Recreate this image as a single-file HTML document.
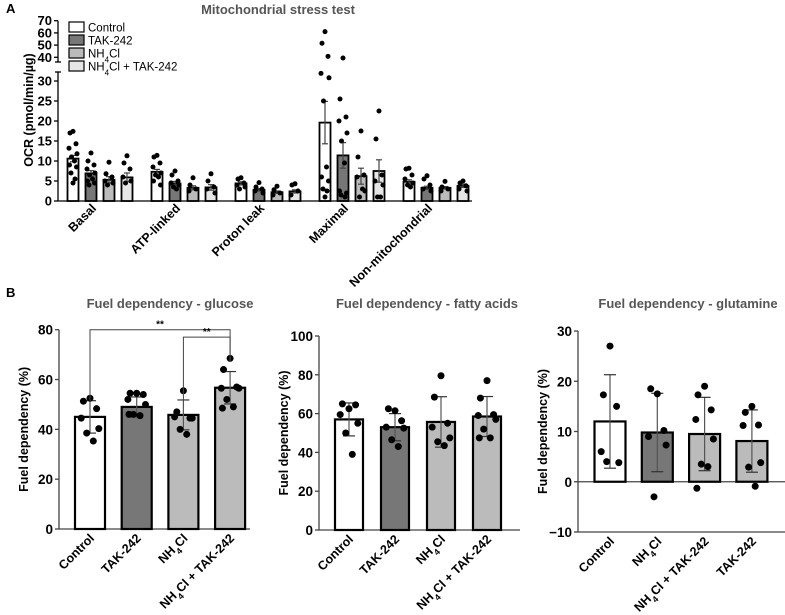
<!DOCTYPE html>
<html><head><meta charset="utf-8"><style>
html,body{margin:0;padding:0;background:#fff}
svg{display:block;font-family:"Liberation Sans",Arial,sans-serif}
</style></head><body>
<svg id="fig" width="785" height="615" viewBox="0 0 785 615"></svg>
<script>
// ---------- Panel A data ----------
const aCategories = ["Basal","ATP-linked","Proton leak","Maximal","Non-mitochondrial"];
const aGroups = ["Control","TAK-242","NH4Cl","NH4Cl + TAK-242"];
const aMeans = [[10.6,6.9,5.3,5.9],[7.3,4.4,3.3,3.4],[4.4,2.8,2.2,2.4],[19.6,11.4,6.2,7.5],[4.8,3.3,3.3,3.8]];
const aSem = [[0.8,0.7,0.8,1.1],[0.6,0.5,0.5,0.7],[0.4,0.3,0.3,0.4],[5.3,3.2,2.0,2.8],[0.5,0.4,0.3,0.4]];
const aDots = [
 [[17.4,17,14.3,13.2,11.8,11,10,9,8.5,7,5.5,4.5],[12,10,9,8,7,6.5,5.5,5,4.5,4],[9.7,6.8,6,5,4.5,4],[11.3,9.5,8,6,5,4.5]],
 [[11.4,11,9.5,8.5,7,6.5,6,5,4],[7.5,6.5,5,4.5,4,3.5,3],[5.8,4,3,2.5],[6.8,5,3.5,3,2]],
 [[5.8,5.5,4.5,4,3.5,3],[4.6,3.5,3,2.5,2],[3.7,2.8,2,1.5],[4.3,4,2.5,1.5]],
 [[61,51.5,40.8,31.9,30.8,25,8.5,6,5,3,2.5,1],[39.4,25.5,21,20,17,15,9.5,2.5,2,1.5,1],[17.5,11,6.5,6,2.5,1,3],[22.5,15.5,6.5,5,4,1,1]],
 [[8.2,8,6.5,5.5,4.5,4,3.5],[6.3,5.5,4,3,2.5],[4.9,3.5,3,2.5],[5,4.5,3.8,3,2.5]]
];
const aTicksLow = [0,5,10,15,20,25,30];
const aTicksHigh = [40,50,60,70];
// ---------- Panel B data ----------
const b1Cats = ["Control","TAK-242","NH4Cl","NH4Cl + TAK-242"];
const b1Means = [45,49,45.8,56.7];
const b1Sd = [6.5,4,6,6.5];
const b1Dots = [[52.5,51.3,48.3,44.5,40.3,38.5,35.3],[54.5,54.5,54,52,50,46,45.5,46],[55.5,47,44.5,45,44.5,40,38],[68.5,64,57,56.5,56.5,52,49,48.5]];
const b1Ticks = [0,20,40,60,80];
const b2Cats = ["Control","TAK-242","NH4Cl","NH4Cl + TAK-242"];
const b2Means = [57,53,55.7,58.5];
const b2Sd = [8.5,7,13,10.3];
const b2Dots = [[62.5,65,64.5,59.5,55,50,39],[61.5,62.5,56.3,53,52.5,46.5,43],[79.5,68.5,55,53,47.5,45.5,43.5],[77,68,59.5,59,57,52,47.5,47.5]];
const b2Ticks = [0,20,40,60,80,100];
const b3Cats = ["Control","NH4Cl","NH4Cl + TAK-242","TAK-242"];
const b3Means = [12,9.8,9.5,8.1];
const b3Sd = [9.3,7.8,7.3,6.2];
const b3Dots = [[27,17.3,15,6,3.8,4],[17.5,18.5,10.2,9,7.3,-3],[19,17.3,14.3,12.4,8.5,3.5,3,-1.3],[15,13.8,11.3,11.2,3.8,2.9,-0.9]];
const b3Ticks = [-10,0,10,20,30];

const NS="http://www.w3.org/2000/svg";
const svg=document.getElementById('fig');
function mk(tag,attrs,parent){const e=document.createElementNS(NS,tag);for(const k in attrs)e.setAttribute(k,attrs[k]);(parent||svg).appendChild(e);return e;}
function label(el,txt){
  const parts=txt.split("NH4Cl");
  parts.forEach((p,i)=>{
    if(i>0){const t1=mk('tspan',{},el);t1.textContent="NH";const t2=mk('tspan',{'baseline-shift':'sub','font-size':'0.7em'},el);t2.textContent="4";const t3=mk('tspan',{},el);t3.textContent="Cl";}
    if(p){const t=mk('tspan',{},el);t.textContent=p;}
  });
}
function jit(i){return [0,-3,3,-4,4,-1.5,1.5,-3.5,3.5,-2,2,0][i%12];}

// ---------- Panel A ----------
const A={x0:58,x1:472,y0:201,pxL:4.0,yHi40:57.3,pxH:1.22};
function ay(v){return v<=33?A.y0-v*A.pxL:A.yHi40-(v-40)*A.pxH;}
const fills=["#ffffff","#777777","#bbbbbb","#e6e6e6"];
const gA=mk('g',{});


let t=mk('text',{x:6,y:13,'font-size':13,'font-weight':'bold'},gA);t.textContent="A";

t=mk('text',{x:278,y:14,'font-size':13,'font-weight':'bold',fill:'#555','text-anchor':'middle'},gA);t.textContent="Mitochondrial stress test";

mk('line',{x1:A.x0,y1:A.y0,x2:A.x0,y2:72,stroke:'#000','stroke-width':1.3},gA);
mk('line',{x1:A.x0,y1:62,x2:A.x0,y2:20.7,stroke:'#000','stroke-width':1.3},gA);
mk('line',{x1:55,y1:72,x2:61,y2:72,stroke:'#000','stroke-width':1.3},gA);
mk('line',{x1:55,y1:62,x2:61,y2:62,stroke:'#000','stroke-width':1.3},gA);
mk('line',{x1:A.x0,y1:A.y0,x2:A.x1,y2:A.y0,stroke:'#000','stroke-width':1.3},gA);
[...aTicksLow,...aTicksHigh].forEach(v=>{const y=ay(v);mk('line',{x1:A.x0-4,y1:y,x2:A.x0,y2:y,stroke:'#000','stroke-width':1.3},gA);
  const tt=mk('text',{x:A.x0-6,y:y+4.5,'font-size':13,'font-weight':'bold','text-anchor':'end'},gA);tt.textContent=v;
  });
t=mk('text',{x:0,y:0,'font-size':12.5,'font-weight':'bold','text-anchor':'middle',transform:'translate(33,110) rotate(-90)'},gA);t.textContent="OCR (pmol/min/µg)";

aGroups.forEach((g,i)=>{const y=22+i*13;
  const r=mk('rect',{x:69,y:y,width:15,height:10,fill:fills[i],stroke:'#000','stroke-width':1.2},gA);
  
  const tx=mk('text',{x:88,y:y+9.5,'font-size':11.5},gA);label(tx,g);
  });
aCategories.forEach((c,ci)=>{
  const gc=73+84*ci;
  aGroups.forEach((g,gi)=>{
    const cx=gc+18*gi,m=aMeans[ci][gi],s=aSem[ci][gi];
    const r=mk('rect',{x:cx-5.5,y:ay(m),width:11,height:A.y0-ay(m),fill:fills[gi],stroke:'#000','stroke-width':1.8},gA);
    
    mk('line',{x1:cx,y1:ay(m-s),x2:cx,y2:ay(m+s),stroke:'#444','stroke-width':1.2},gA);
    mk('line',{x1:cx-3,y1:ay(m+s),x2:cx+3,y2:ay(m+s),stroke:'#444','stroke-width':1.2},gA);
    mk('line',{x1:cx-3,y1:ay(m-s),x2:cx+3,y2:ay(m-s),stroke:'#444','stroke-width':1.2},gA);
    aDots[ci][gi].forEach((v,di)=>{const d=mk('circle',{cx:cx+jit(di),cy:ay(v),r:2.5,fill:'#000'},gA);
      });
  });
  const lx=gc+24,ly=209;
  const tx=mk('text',{x:lx,y:ly,'font-size':12.5,'font-weight':'bold','text-anchor':'end',transform:`rotate(-45 ${lx} ${ly})`},gA);tx.textContent=c;
  
});

// ---------- Panel B ----------
t=mk('text',{x:6,y:297,'font-size':13,'font-weight':'bold'});t.textContent="B";

function panel(cfg){
  const g=mk('g',{});
  
  
  const y=v=>cfg.yTop+(cfg.vMax-v)*(cfg.yBot-cfg.yTop)/(cfg.vMax-cfg.vMin);
  let tt=mk('text',{x:cfg.titleX,y:308,'font-size':13,'font-weight':'bold',fill:'#555','text-anchor':'middle'},g);tt.textContent=cfg.title;
  
  mk('line',{x1:cfg.ax,y1:y(cfg.vMin),x2:cfg.ax,y2:y(cfg.vMax),stroke:'#444','stroke-width':1.3},g);
  mk('line',{x1:cfg.ax,y1:y(0),x2:cfg.axEnd,y2:y(0),stroke:'#444','stroke-width':1.3},g);
  if(cfg.vMin<0) mk('line',{x1:cfg.ax,y1:y(cfg.vMin),x2:cfg.axEnd,y2:y(cfg.vMin),stroke:'#444','stroke-width':1.3},g);
  cfg.ticks.forEach(v=>{mk('line',{x1:cfg.ax-4,y1:y(v),x2:cfg.ax,y2:y(v),stroke:'#444','stroke-width':1.3},g);
    const l=mk('text',{x:cfg.ax-6,y:y(v)+5,'font-size':13.5,'font-weight':'bold','text-anchor':'end'},g);l.textContent=(v<0?'−'+(-v):v);
    });
  tt=mk('text',{x:0,y:0,'font-size':12.5,'font-weight':'bold','text-anchor':'middle',transform:`translate(${cfg.ax-31},${(y(cfg.vMin)+y(cfg.vMax))/2}) rotate(-90)`},g);tt.textContent="Fuel dependency (%)";
  
  const base=y(cfg.vMin<0?cfg.vMin:0);
  cfg.cats.forEach((c,i)=>{
    const cx=cfg.c0+cfg.step*i,m=cfg.means[i],s=cfg.sd[i];
    const r=mk('rect',{x:cx-cfg.bw/2,y:y(m),width:cfg.bw,height:y(0)-y(m),fill:cfg.fills[i],stroke:'#000','stroke-width':2.2},g);
    
    mk('line',{x1:cx,y1:y(m-s),x2:cx,y2:y(m+s),stroke:'#555','stroke-width':1.2},g);
    mk('line',{x1:cx-6,y1:y(m+s),x2:cx+6,y2:y(m+s),stroke:'#333','stroke-width':1.2},g);
    mk('line',{x1:cx-6,y1:y(m-s),x2:cx+6,y2:y(m-s),stroke:'#333','stroke-width':1.2},g);
    cfg.dots[i].forEach((v,di)=>{const d=mk('circle',{cx:cx+jit(di)*2.2,cy:y(v),r:3.5,fill:'#000'},g);
      });
    const lx=cx+5,ly=base+10;
    const l=mk('text',{x:lx,y:ly,'font-size':12.5,'font-weight':'bold','text-anchor':'end',transform:`rotate(-45 ${lx} ${ly})`},g);label(l,c);
    
  });
  return {g,y};
}
const p1=panel({name:'glucose-chart',title:'Fuel dependency - glucose',titleX:170,ax:59,axEnd:250,yTop:329.7,yBot:529,vMin:0,vMax:80,ticks:b1Ticks,cats:b1Cats,means:b1Means,sd:b1Sd,dots:b1Dots,c0:90,step:46.7,bw:30,fills:fills.slice(0,3).concat(['#bbbbbb'])});
[[0,3,80,2],[2,3,77,7]].forEach(b=>{
  const xa=90+46.7*b[0],xb=90+46.7*b[1],yy=p1.y(b[2]);
  const p=mk('path',{d:`M${xa} ${p1.y(b1Means[b[0]]+b1Sd[b[0]])} V${yy} H${xb} V${p1.y(b1Means[b[1]]+b1Sd[b[1]]+4)}`,fill:'none',stroke:'#444','stroke-width':1},p1.g);
  
  const s=mk('text',{x:(xa+xb)/2,y:yy-2,'font-size':10,'font-weight':'bold','text-anchor':'middle'},p1.g);s.textContent="**";
  
});
panel({name:'fatty-acids-chart',title:'Fuel dependency - fatty acids',titleX:427,ax:319,axEnd:520,yTop:336,yBot:530,vMin:0,vMax:100,ticks:b2Ticks,cats:b2Cats,means:b2Means,sd:b2Sd,dots:b2Dots,c0:349,step:46,bw:28,fills:fills.slice(0,3).concat(['#bbbbbb'])});
panel({name:'glutamine-chart',title:'Fuel dependency - glutamine',titleX:688,ax:578,axEnd:785,yTop:331,yBot:532,vMin:-10,vMax:30,ticks:b3Ticks,cats:b3Cats,means:b3Means,sd:b3Sd,dots:b3Dots,c0:610,step:47.3,bw:31,fills:['#ffffff','#777777','#bbbbbb','#bbbbbb']});
</script>
</body></html>
